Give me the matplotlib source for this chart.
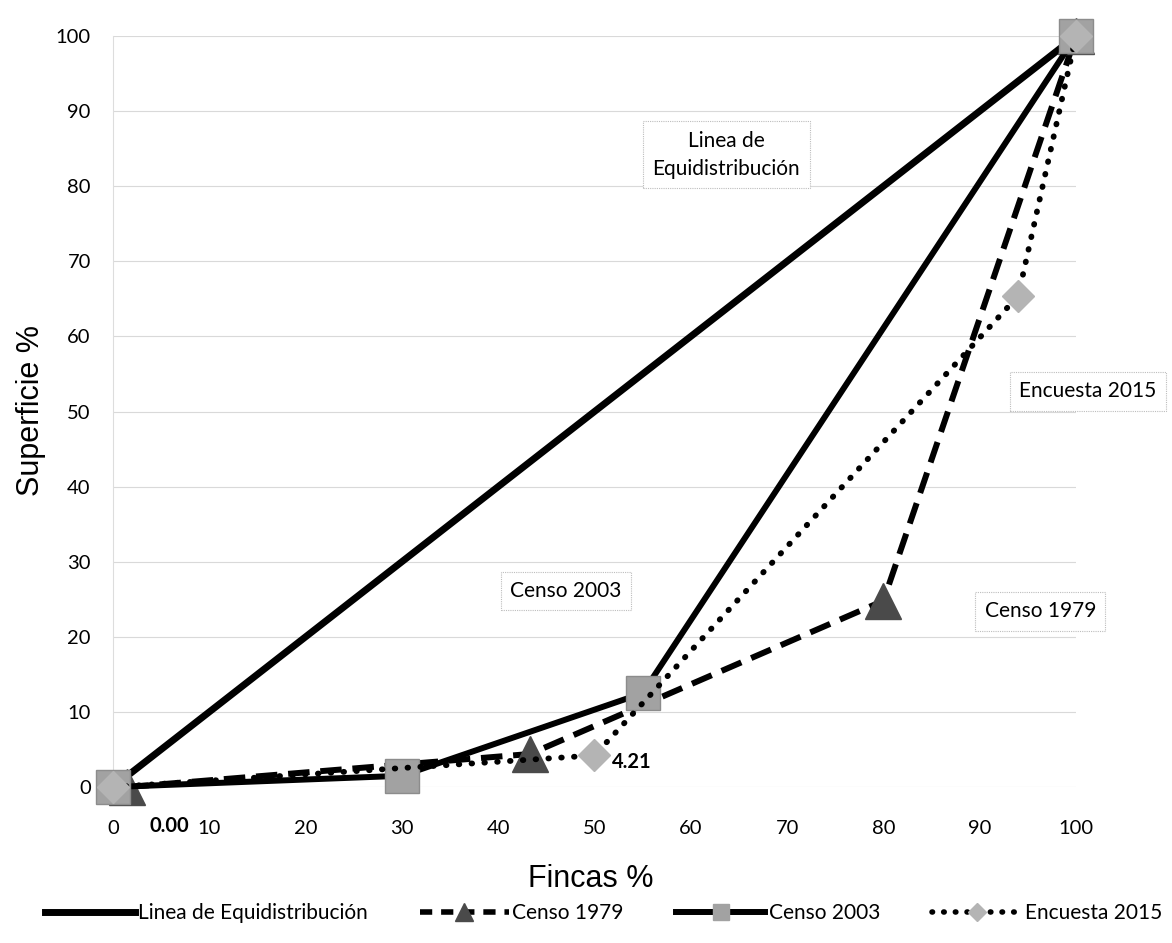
import matplotlib.pyplot as plt
from matplotlib.lines import Line2D

# datos
equi_x = [0, 100]
equi_y = [0, 100]

c1979_x = [1.5, 43.3, 80.0, 100]
c1979_y = [0.0, 4.4, 24.8, 100]

c2003_x = [0, 30.0, 55.0, 100]
c2003_y = [0, 1.5, 12.5, 100]

e2015_x = [0, 50.0, 94.0, 100]
e2015_y = [0, 4.21, 65.4, 100]

xticks = list(range(0, 101, 10))
yticks = list(range(0, 101, 10))

fuente = "Lato"

fig = plt.figure(figsize=(11.72, 9.43), dpi=100)
ax = fig.add_axes([0.0964, 0.1654, 0.8217, 0.7964])

ax.set_xlim(0, 100)
ax.set_ylim(0, 100)
for y in yticks:
    ax.axhline(y, color='#d9d9d9', lw=0.8, zorder=0)

for s in ['top', 'right', 'bottom']:
    ax.spines[s].set_visible(False)
ax.spines['left'].set_color('#dddddd')
ax.spines['left'].set_linewidth(0.8)

ax.set_xticks(xticks)
ax.set_yticks(yticks)
ax.tick_params(length=0, labelsize=14.5)
ax.tick_params(axis='x', pad=24)
ax.tick_params(axis='y', pad=16)
for lab in ax.get_xticklabels() + ax.get_yticklabels():
    lab.set_family(fuente)

# lineas
ax.plot(equi_x, equi_y, color='black', lw=5, solid_capstyle='butt', zorder=3, clip_on=False)
ax.plot(c1979_x, c1979_y, color='black', lw=4.3, linestyle=(0, (3.6, 1.8)),
        marker='^', markersize=26, markerfacecolor='#4a4a4a', markeredgecolor='#4a4a4a',
        zorder=4, clip_on=False)
ax.plot(c2003_x, c2003_y, color='black', lw=4.3, solid_capstyle='butt',
        marker='s', markersize=24, markerfacecolor='#a2a2a2', markeredgecolor='#8c8c8c',
        zorder=5, clip_on=False)
ax.plot(e2015_x, e2015_y, color='black', lw=4.2, linestyle=(0, (0.1, 2.1)),
        dash_capstyle='round', marker='D', markersize=16,
        markerfacecolor='#b4b4b4', markeredgecolor='#b4b4b4', zorder=6, clip_on=False)

# etiquetas de datos
ax.annotate('0.00', (c1979_x[0], c1979_y[0]), xytext=(30, -28), textcoords='offset points',
            ha='center', va='center', fontsize=14.5, fontweight='bold', family=fuente,
            annotation_clip=False)
ax.annotate('4.21', (e2015_x[1], e2015_y[1]), xytext=(27, -5), textcoords='offset points',
            ha='center', va='center', fontsize=14.5, fontweight='bold', family=fuente)

caja = dict(boxstyle='square,pad=0.45', fc='white', ec='#bdbdbd', lw=0.8, ls=(0, (1, 1)))
ax.text(63.7, 84.2, 'Linea de\nEquidistribución', ha='center', va='center', fontsize=15,
        family=fuente, bbox=caja, zorder=7, linespacing=1.5)
ax.text(47.0, 26.1, 'Censo 2003', ha='center', va='center', fontsize=15,
        family=fuente, bbox=caja, zorder=7)
ax.text(96.3, 23.4, 'Censo 1979', ha='center', va='center', fontsize=15,
        family=fuente, bbox=caja, zorder=7, clip_on=False)
ax.text(101.2, 52.7, 'Encuesta 2015', ha='center', va='center', fontsize=15,
        family=fuente, bbox=caja, zorder=7, clip_on=False)

ax.set_xlabel('Fincas %', fontsize=22, family='Liberation Sans')
ax.set_ylabel('Superficie %', fontsize=22, family='Liberation Sans')
ax.xaxis.label.set_va('center')
ax.yaxis.label.set_va('center')
ax.xaxis.set_label_coords(0.496, -0.1225)
ax.yaxis.set_label_coords(-0.085, 0.501)

# leyenda
handles = [
    Line2D([], [], color='black', lw=5),
    Line2D([], [], color='black', lw=4, linestyle=(0, (2.2, 1.6)), marker='^', markersize=13,
           markerfacecolor='#4a4a4a', markeredgecolor='#4a4a4a'),
    Line2D([], [], color='black', lw=4.3, marker='s', markersize=12,
           markerfacecolor='#a2a2a2', markeredgecolor='#a2a2a2'),
    Line2D([], [], color='black', lw=4, linestyle=(0, (0.1, 2.0)), dash_capstyle='round',
           marker='D', markersize=9, markerfacecolor='#b4b4b4', markeredgecolor='#b4b4b4'),
]
labels = ['Linea de Equidistribución', 'Censo 1979', 'Censo 2003', 'Encuesta 2015']
fig.legend(handles, labels, loc='center', bbox_to_anchor=(0.515, 0.032), ncol=4, frameon=False,
           prop={'family': fuente, 'size': 15}, handlelength=4.3, handletextpad=0.15,
           columnspacing=2.5)

fig.savefig('out.png', dpi=100)
